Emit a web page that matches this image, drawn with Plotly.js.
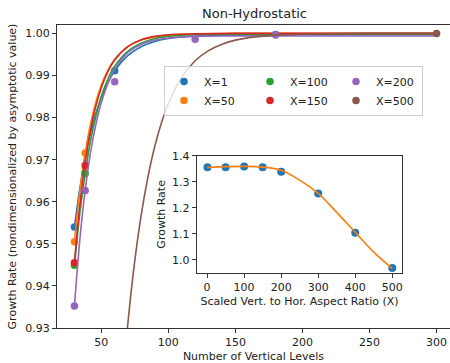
<!DOCTYPE html>
<html><head><meta charset="utf-8">
<script src="https://cdn.plot.ly/plotly-3.0.1.min.js"></script>
<style>html,body{margin:0;padding:0;background:#fff;}#chart{width:450px;height:363px;}</style>
</head><body><div id="chart"></div>
<script>
// Main chart: fitted curves
const fitLevels = [30,34,38,42,46,50,55,60,70,80,90,100,120,150,200,300];
const fitX1   = [0.9540,0.9631,0.9704,0.9763,0.9810,0.9847,0.9883,0.9911,0.9948,0.9969,0.9981,0.9988,0.9994,0.9996,0.9997,0.9997];
const fitX50  = [0.9505,0.9625,0.9716,0.9785,0.9837,0.9877,0.9913,0.9938,0.9969,0.9985,0.9992,0.9996,0.9999,1.0000,1.0000,1.0000];
const fitX100 = [0.9449,0.9572,0.9667,0.9745,0.9803,0.9850,0.9892,0.9922,0.9958,0.9977,0.9988,0.9993,0.9997,0.9998,0.9998,0.9998];
const fitX150 = [0.9455,0.9591,0.9694,0.9770,0.9828,0.9871,0.9910,0.9937,0.9969,0.9985,0.9993,0.9997,0.9999,1.0000,1.0000,1.0000];
const fitX200 = [0.9352,0.9509,0.9627,0.9717,0.9784,0.9835,0.9882,0.9915,0.9955,0.99745,0.9984,0.9989,0.9993,0.9994,0.9994,0.9994];
const fitLevelsX500 = [60,65,70,75,80,85,90,95,100,110,120,130,140,150,160,180,200,250,300];
const fitX500 = [0.8906,0.9135,0.9316,0.9460,0.9573,0.9662,0.9733,0.9789,0.9833,0.9896,0.9935,0.9959,0.99745,0.9984,0.9990,0.9996,0.9998,1.0000,1.0000];

// Main chart: measured points
const ptLevelsX1 = [30,60,180];        const ptX1 = [0.9540,0.9911,0.99976];
const ptLevelsX50 = [30,38];           const ptX50 = [0.9505,0.9716];
const ptLevelsX100 = [30,38];          const ptX100 = [0.9449,0.9667];
const ptLevelsX150 = [30,38];          const ptX150 = [0.9455,0.9686];
const ptLevelsX200 = [30,38,60,120,180]; const ptX200 = [0.9352,0.9627,0.9885,0.99864,0.9996];
const ptLevelsX500 = [300];            const ptX500 = [1.0000];

const seriesNames = ['X=1','X=50','X=100','X=150','X=200','X=500'];
const seriesColors = ['#1f77b4','#ff7f0e','#2ca02c','#d62728','#9467bd','#8c564b'];
const legendColumns = ['c1','c1','c2','c2','c3','c3'];

// Inset
const aspectX = [1,50,100,150,200,300,400,500];
const growthRate = [1.357,1.357,1.360,1.357,1.339,1.256,1.105,0.969];
const fitAspectX = [0,50,100,150,200,250,300,350,400,450,500];
const fitGrowth = [1.356,1.359,1.360,1.357,1.345,1.307,1.256,1.183,1.106,1.030,0.967];

const xTicks = [50,100,150,200,250,300];
const yTicks = [0.93,0.94,0.95,0.96,0.97,0.98,0.99,1.00];
const insetXTicks = [0,100,200,300,400,500];
const insetYTicks = [1.0,1.1,1.2,1.3,1.4];

const ptLevels = [ptLevelsX1,ptLevelsX50,ptLevelsX100,ptLevelsX150,ptLevelsX200,ptLevelsX500];
const ptVals = [ptX1,ptX50,ptX100,ptX150,ptX200,ptX500];
const fitLvls = [fitLevels,fitLevels,fitLevels,fitLevels,fitLevels,fitLevelsX500];
const fitVals = [fitX1,fitX50,fitX100,fitX150,fitX200,fitX500];

const traces = [];
for (let i = 0; i < seriesNames.length; i++) {
  traces.push({x: ptLevels[i], y: ptVals[i], type:'scatter', mode:'markers', name: seriesNames[i],
    legendgroup: legendColumns[i], marker:{color: seriesColors[i], size:7.5}, cliponaxis:true, xaxis:'x', yaxis:'y'});
  traces.push({x: fitLvls[i], y: fitVals[i], type:'scatter', mode:'lines', showlegend:false,
    line:{color: seriesColors[i], width:1.6, shape:'spline', smoothing:1}, hoverinfo:'skip', xaxis:'x', yaxis:'y'});
}
traces.push({x: aspectX, y: growthRate, type:'scatter', mode:'markers', showlegend:false,
  marker:{color:'#1f77b4', size:8}, xaxis:'x2', yaxis:'y2'});
traces.push({x: fitAspectX, y: fitGrowth, type:'scatter', mode:'lines', showlegend:false,
  line:{color:'#ff7f0e', width:1.6, shape:'spline', smoothing:1}, xaxis:'x2', yaxis:'y2'});

const axisStyle = {ticks:'outside', ticklen:4, tickwidth:1, tickcolor:'#333', showline:true, linecolor:'#333',
  linewidth:1, showgrid:false, zeroline:false, tickfont:{size:11, color:'#222'}};

const layout = {
  width:450, height:363,
  margin:{l:57, r:0, t:25, b:35, pad:0},
  paper_bgcolor:'#ffffff', plot_bgcolor:'#ffffff',
  font:{family:'DejaVu Sans', size:11, color:'#222'},
  title:{text:'Non-Hydrostatic', font:{size:13, color:'#222'}, xref:'container', x:0.5656, xanchor:'center', yref:'container', y:0.963, yanchor:'middle'},
  showlegend:true,
  legend:{orientation:'h', traceorder:'grouped', x:0.2723, y:0.8647, xanchor:'left', yanchor:'top',
    bgcolor:'rgba(255,255,255,0.8)', bordercolor:'#cccccc', borderwidth:1, entrywidth:41, tracegroupgap:0,
    font:{size:11, color:'#222'}},
  xaxis: Object.assign({}, axisStyle, {domain:[0,1], anchor:'y', range:[17,310], tickvals:xTicks, mirror:true,
    title:{text:'Number of Vertical Levels', standoff:6, font:{size:11}}}),
  yaxis: Object.assign({}, axisStyle, {domain:[0,1], anchor:'x', range:[0.93,1.002], tickvals:yTicks, tickformat:'.2f', mirror:false,
    title:{text:'Growth Rate (nondimensionalized by asymptotic value)', standoff:6, font:{size:11}}}),
  xaxis2: Object.assign({}, axisStyle, {domain:[0.3555,0.8786], anchor:'y2', range:[-28,527], tickvals:insetXTicks, mirror:true,
    title:{text:'Scaled Vert. to Hor. Aspect Ratio (X)', standoff:4, font:{size:11}}}),
  yaxis2: Object.assign({}, axisStyle, {domain:[0.1825,0.5677], anchor:'x2', range:[0.951,1.4], tickvals:insetYTicks, tickformat:'.1f', mirror:true,
    title:{text:'Growth Rate', standoff:4, font:{size:11}}})
};

Plotly.newPlot('chart', traces, layout, {staticPlot:true, displayModeBar:false});
</script>
</body></html>
